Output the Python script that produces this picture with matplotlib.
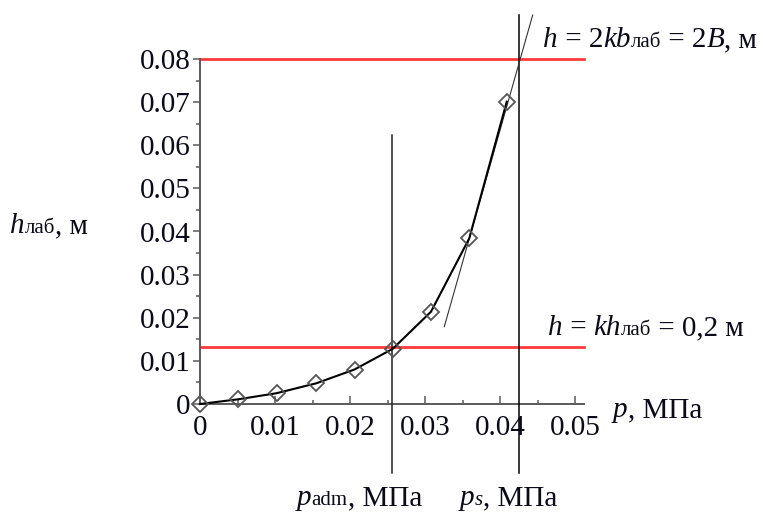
import numpy as np
import matplotlib
matplotlib.use("Agg")
import matplotlib.pyplot as plt

W, H = 765, 513
FONT = "Liberation Serif"

# data
p_vals = [0.0, 0.00513, 0.0102, 0.0155, 0.0206, 0.0257, 0.0308, 0.0359, 0.0409]
h_vals = [0.0, 0.0011, 0.0025, 0.0048, 0.0080, 0.0128, 0.0214, 0.0384, 0.0701]
h_top = 0.08          # h = 2kb = 2B
h_low = 0.0133        # h = kh = 0,2 m
p_adm = 0.02564
p_s = 0.04257
tangent_p = [0.03257, 0.04436]
tangent_h = [0.01792, 0.0902]
vline_adm_h = [-0.0159, 0.0624]
vline_s_h = [-0.0159, 0.0902]
x_ticks = [0, 0.01, 0.02, 0.03, 0.04, 0.05]
x_labels = ["0", "0.01", "0.02", "0.03", "0.04", "0.05"]
y_ticks = [0, 0.01, 0.02, 0.03, 0.04, 0.05, 0.06, 0.07, 0.08]
y_labels = ["0", "0.01", "0.02", "0.03", "0.04", "0.05", "0.06", "0.07", "0.08"]

plt.rcParams["font.family"] = [FONT, "DejaVu Serif"]

fig = plt.figure(figsize=(W / 100, H / 100), dpi=100)
ax = fig.add_axes([200 / W, 109 / H, 384 / W, 345 / H])
ax.set_xlim(0, 0.0512)
ax.set_ylim(0, 0.08)

for s in ["top", "right"]:
    ax.spines[s].set_visible(False)
for s in ["left", "bottom"]:
    ax.spines[s].set_color("#5a5a5a")
    ax.spines[s].set_linewidth(1.4)

# red horizontal levels
ax.plot([0, 0.0512], [h_top, h_top], color="#ff3a3a", lw=2, clip_on=False, zorder=2)
ax.plot([0, 0.0512], [h_low, h_low], color="#ff3a3a", lw=2, clip_on=False, zorder=2)

# vertical lines
ax.plot([p_adm, p_adm], vline_adm_h, color="#222222", lw=1.1, clip_on=False, zorder=3)
ax.plot([p_s, p_s], vline_s_h, color="black", lw=1.1, clip_on=False, zorder=3)

# tangent
ax.plot(tangent_p, tangent_h, color="#333333", lw=0.8, clip_on=False, zorder=3)

# curve
ax.plot(p_vals, h_vals, color="black", lw=1.5, zorder=4, clip_on=False,
        marker="D", ms=8, mfc="none", mec="#555555", mew=1.3)

ax.set_xticks(x_ticks)
ax.set_xticklabels(x_labels)
ax.set_xticks(np.arange(0.005, 0.051, 0.01), minor=True)
ax.set_yticks(y_ticks)
ax.set_yticklabels(y_labels)
ax.set_yticks(np.arange(0.005, 0.08, 0.01), minor=True)

ax.tick_params(axis="x", which="major", direction="in", length=6, width=1.1,
               color="#5a5a5a", labelsize=21, pad=8)
ax.tick_params(axis="x", which="minor", direction="in", length=3, width=1.1,
               color="#5a5a5a")
ax.tick_params(axis="y", which="major", direction="out", length=5, width=1.1,
               color="#5a5a5a", labelsize=21, pad=2)
ax.tick_params(axis="y", which="minor", direction="out", length=3, width=1.1,
               color="#5a5a5a")
for lab in ax.get_xticklabels() + ax.get_yticklabels():
    lab.set_fontfamily(FONT)
    lab.set_color("#0a0a1a")

renderer = fig.canvas.get_renderer()


def rich_text(x, y, parts):
    # x, y: pixel position of baseline start, measured from top-left
    for s, style, size in parts:
        t = fig.text(x / W, 1 - y / H, s, fontsize=size, style=style,
                     family=FONT, va="baseline", ha="left", color="#0a0a1a")
        bb = t.get_window_extent(renderer)
        x += bb.width


BIG, SMALL = 21, 15
rich_text(543, 47, [("h", "italic", BIG), (" = 2", "normal", BIG), ("kb", "italic", BIG),
                    ("лаб", "normal", SMALL), (" = 2", "normal", BIG), ("B", "italic", BIG),
                    (", м", "normal", BIG)])
rich_text(548, 335, [("h", "italic", BIG), (" = ", "normal", BIG), ("kh", "italic", BIG),
                     ("лаб", "normal", SMALL), (" = 0,2 м", "normal", BIG)])
rich_text(613, 417, [("p", "italic", BIG), (", МПа", "normal", BIG)])
rich_text(297, 505, [("p", "italic", BIG), ("adm", "normal", SMALL), (", МПа", "normal", BIG)])
rich_text(460, 505, [("p", "italic", BIG), ("s", "italic", SMALL), (", МПа", "normal", BIG)])
rich_text(10, 233, [("h", "italic", BIG), ("лаб", "normal", SMALL), (", м", "normal", BIG)])

fig.savefig("out.png", dpi=100)
